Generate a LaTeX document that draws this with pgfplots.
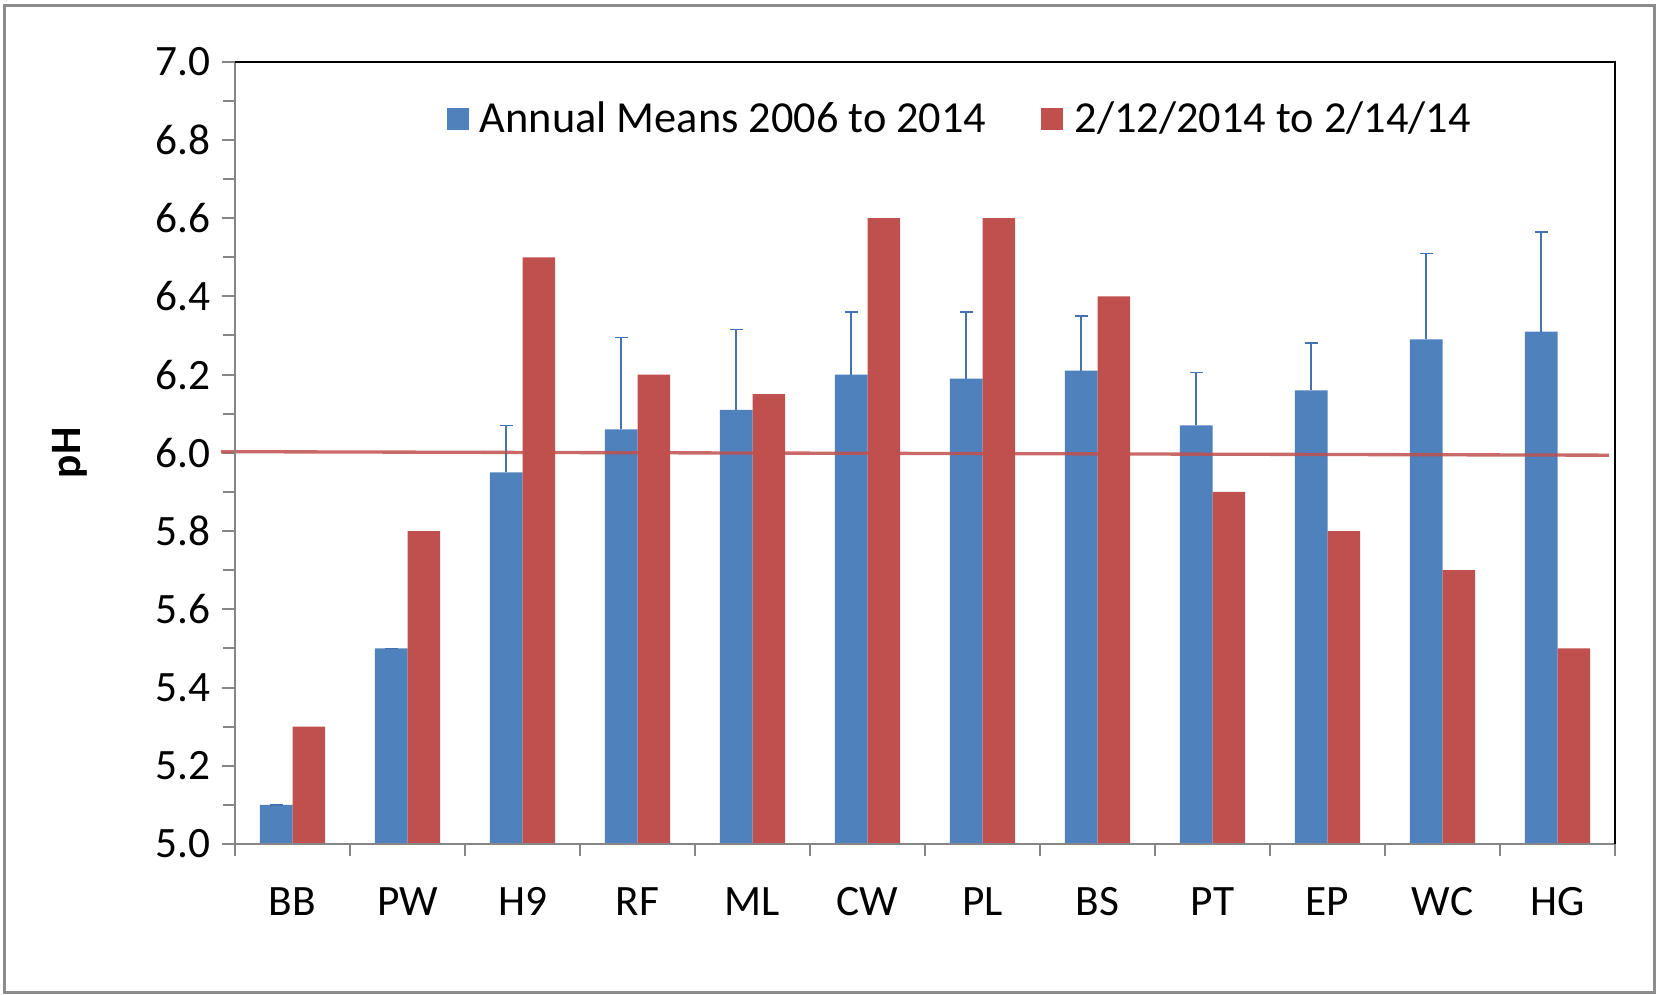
\documentclass[border=0pt]{standalone}
\usepackage{fontspec}
\setmainfont{Carlito}
\usepackage{pgfplots}
\usepackage{pgfplotstable}
\pgfplotsset{compat=1.18}
\definecolor{barblue}{HTML}{4F81BD}
\definecolor{barred}{HTML}{C0504D}
\definecolor{errblue}{HTML}{4472AE}
\definecolor{axgray}{HTML}{868686}
\definecolor{framegray}{HTML}{8C8C8C}

\pgfplotstableread{
x blue err red
0 5.10 0 5.30
1 5.50 0 5.80
2 5.95 0.12 6.50
3 6.06 0.235 6.20
4 6.11 0.205 6.15
5 6.20 0.16 6.60
6 6.19 0.17 6.60
7 6.21 0.14 6.40
8 6.07 0.135 5.90
9 6.16 0.12 5.80
10 6.29 0.22 5.70
11 6.31 0.255 5.50
}\datatable

\begin{document}
\begin{tikzpicture}
\useasboundingbox (-70.5pt,-45pt) rectangle (426.6pt,253.2pt);
\draw[framegray, line width=0.9pt] (-69pt,-44.4pt) rectangle (425.7pt,251.7pt);
\begin{axis}[
  scale only axis, width=414pt, height=234.7pt,
  xmin=-0.5, xmax=11.5, ymin=5, ymax=7,
  clip=false,
  axis line style={draw=none},
  tick pos=left, tick align=outside,
  xtick={0,...,11},
  xticklabels={BB,PW,H9,RF,ML,CW,PL,BS,PT,EP,WC,HG},
  major x tick style={draw=none},
  minor xtick={-0.5,0.5,...,11.5},
  ytick={5,5.2,5.4,5.6,5.8,6,6.2,6.4,6.6,6.8,7},
  minor ytick={5.1,5.3,5.5,5.7,5.9,6.1,6.3,6.5,6.7,6.9},
  tick style={axgray, line width=0.6pt},
  major tick length=3.9pt, minor tick length=3.6pt,
  yticklabel style={/pgf/number format/.cd, fixed, fixed zerofill, precision=1},
  xticklabel style={yshift=-5.7pt},
  /pgf/number format/assume math mode=true,
  tick label style={font=\fontsize{13}{15}\selectfont},
  ylabel={pH},
  ylabel style={font=\fontsize{13}{15}\selectfont\bfseries, at={(axis description cs:-0.1196,0.5)}, anchor=center},
  legend columns=2,
  legend style={draw=none, fill=none, at={(rel axis cs:0.1529,0.9261)}, anchor=west, inner sep=0pt,
    font=\fontsize{13.3}{15}\selectfont,
    /tikz/every even column/.append style={column sep=14.5pt}},
]
\addplot[ybar, bar width=9.8pt, bar shift=-4.9pt, fill=barblue, draw=none,
  legend image code/.code={\fill[barblue] (0pt,-3.3pt) rectangle (6.6pt,3.3pt); \path (8pt,0pt);},
  error bars/.cd, y dir=plus, y explicit,
  error bar style={errblue, line width=0.5pt, xshift=-4.9pt},
  error mark options={rotate=90, mark size=1.95pt, line width=0.5pt, errblue, xshift=-4.9pt}]
  table[x=x, y=blue, y error=err] {\datatable};
\addlegendentry{Annual Means 2006 to 2014}
\addplot[ybar, bar width=9.8pt, bar shift=4.9pt, fill=barred, draw=none,
  legend image code/.code={\fill[barred] (0pt,-3.3pt) rectangle (6.6pt,3.3pt); \path (8pt,0pt);}]
  table[x=x, y=red] {\datatable};
\addlegendentry{2/12/2014 to 2/14/14}
\addplot[barred, opacity=0.85, line width=1pt, forget plot] coordinates {(-0.622,6.003) (11.448,5.994)};
\draw[axgray, line width=0.6pt] (rel axis cs:0,1) -- (rel axis cs:0,0) -- (rel axis cs:1,0);
\draw[black, line width=0.6pt] (rel axis cs:0,1) -- (rel axis cs:1,1) -- (rel axis cs:1,0);
\end{axis}
\end{tikzpicture}
\end{document}
